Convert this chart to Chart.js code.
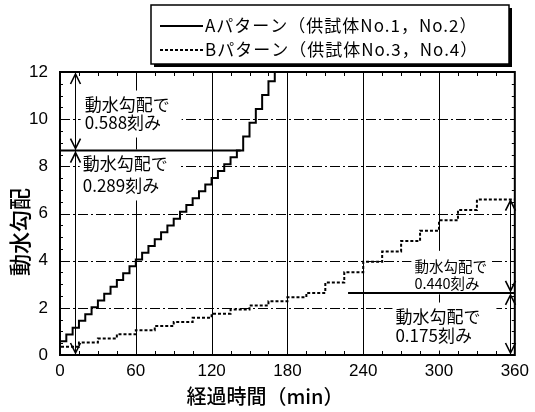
<!DOCTYPE html>
<html>
<head>
<meta charset="utf-8">
<style>
  html, body { margin: 0; padding: 0; background: #fff; }
  canvas { display: block; }
</style>
<script src="https://cdn.jsdelivr.net/npm/chart.js@4.4.0/dist/chart.umd.min.js"></script>
</head>
<body>
<canvas id="chart" width="535" height="412"></canvas>
<script>
// Hydraulic gradient loading steps for the two test patterns (time in min).
const seriesNames = ['Aパターン（供試体No.1，No.2）', 'Bパターン（供試体No.3，No.4）'];

const aTimes = [0, 0, 5, 10, 15, 20, 25, 30, 35, 40, 45, 50, 55, 60, 65, 70, 75, 80, 85, 90,
                95, 100, 105, 110, 115, 120, 125, 130, 135, 140, 145,
                150, 155, 160, 165, 170, 175];
const aHead  = [0, 0.29, 0.58, 0.87, 1.16, 1.45, 1.73, 2.02, 2.31, 2.60, 2.89, 3.18, 3.47, 3.76,
                4.05, 4.34, 4.62, 4.91, 5.20, 5.49, 5.78, 6.07, 6.36, 6.65, 6.94, 7.23, 7.51,
                7.80, 8.09, 8.38, 8.67,
                9.26, 9.85, 10.43, 11.02, 11.61, 12.00];

const bTimes = [0, 15, 30, 45, 60, 75, 90, 105, 120, 135, 150, 165, 180, 195, 210,
                225, 240, 255, 270, 285, 300, 315, 330, 345, 360];
const bHead  = [0.18, 0.35, 0.53, 0.70, 0.88, 1.05, 1.23, 1.40, 1.58, 1.75, 1.93, 2.10, 2.28,
                2.45, 2.63,
                3.07, 3.51, 3.95, 4.39, 4.83, 5.27, 5.71, 6.15, 6.59, 6.59];

// Gradient at which each pattern switches to the larger increment.
const aSwitch = 8.67;
const bSwitch = 2.63;

const xTicks = [0, 60, 120, 180, 240, 300, 360];
const yTicks = [0, 2, 4, 6, 8, 10, 12];
const xGrid = [60, 120, 180, 240, 300];
const yGrid = [2, 4, 6, 8, 10];

const xTitle = '経過時間（min）';
const yTitle = '動水勾配';

const notes = [
  { lines: ['動水勾配で', '0.588刻み'], t: 19.5, v: 10.6, size: 17, gap: 18, pad: [4, 12, 6, 6] },
  { lines: ['動水勾配で', '0.289刻み'], t: 18.0, v: 8.10, size: 17, gap: 22, pad: [3, 12, 6, 6] },
  { lines: ['動水勾配で', '0.440刻み'], t: 280.5, v: 3.77, size: 14.5, gap: 17, pad: [3, 4, 8, 4] },
  { lines: ['動水勾配で', '0.175刻み'], t: 265.5, v: 1.61, size: 17, gap: 19, pad: [3, 16, 6, 6] }
];

const CJK = '"Noto Sans CJK JP", "Noto Sans", sans-serif';
const LAT = '"Liberation Sans", Arial, sans-serif';

const toPoints = (ts, vs) => ts.map((t, i) => ({ x: t, y: vs[i] }));

function arrowHead(ctx, x, yTip, dir) {
  // dir = -1 points up, +1 points down
  ctx.beginPath();
  ctx.moveTo(x - 5, yTip - dir * 10);
  ctx.lineTo(x, yTip);
  ctx.lineTo(x + 5, yTip - dir * 10);
  ctx.stroke();
}

function noteBox(ctx, n, X, Y) {
  ctx.font = n.size + 'px ' + CJK;
  let w = 0;
  n.lines.forEach(s => { w = Math.max(w, ctx.measureText(s).width); });
  return {
    x0: X - n.pad[0],
    x1: X + w + n.pad[1],
    y0: Y - n.size / 2 - n.pad[2],
    y1: Y + n.gap * (n.lines.length - 1) + n.size / 2 + n.pad[3]
  };
}

const decor = {
  id: 'decor',
  beforeDatasetsDraw(chart) {
    const { ctx, chartArea: a, scales: { x, y } } = chart;
    ctx.save();
    ctx.strokeStyle = '#000';
    // vertical grid
    ctx.lineWidth = 1;
    ctx.setLineDash([]);
    xGrid.forEach(t => {
      const px = Math.round(x.getPixelForValue(t)) + 0.5;
      ctx.beginPath(); ctx.moveTo(px, a.top); ctx.lineTo(px, a.bottom); ctx.stroke();
    });
    // horizontal dash-dot grid
    ctx.setLineDash([10, 3, 2, 3]);
    yGrid.forEach(v => {
      const py = Math.round(y.getPixelForValue(v)) + 0.5;
      ctx.beginPath(); ctx.moveTo(a.left, py); ctx.lineTo(a.right, py); ctx.stroke();
    });
    ctx.setLineDash([]);
    // small inward ticks
    for (let t = 15; t < 360; t += 15) {
      if (t % 60 === 0) continue;
      const px = Math.round(x.getPixelForValue(t)) + 0.5;
      ctx.beginPath();
      ctx.moveTo(px, a.bottom); ctx.lineTo(px, a.bottom - 4);
      ctx.moveTo(px, a.top); ctx.lineTo(px, a.top + 4);
      ctx.stroke();
    }
    for (let v = 0.5; v < 12; v += 0.5) {
      if (v % 2 === 0) continue;
      const py = Math.round(y.getPixelForValue(v)) + 0.5;
      ctx.beginPath();
      ctx.moveTo(a.left, py); ctx.lineTo(a.left + 3, py);
      ctx.moveTo(a.right, py); ctx.lineTo(a.right - 3, py);
      ctx.stroke();
    }
    // white backing behind the annotation texts
    ctx.fillStyle = '#fff';
    notes.forEach(n => {
      const b = noteBox(ctx, n, x.getPixelForValue(n.t), y.getPixelForValue(n.v));
      ctx.fillRect(b.x0, b.y0, b.x1 - b.x0, b.y1 - b.y0);
    });
    ctx.restore();
  },
  afterDatasetsDraw(chart) {
    const { ctx, chartArea: a, scales: { x, y } } = chart;
    ctx.save();
    ctx.strokeStyle = '#000';
    ctx.setLineDash([]);
    // switch lines
    ctx.lineWidth = 2;
    const ya = y.getPixelForValue(aSwitch);
    ctx.beginPath(); ctx.moveTo(a.left, ya); ctx.lineTo(x.getPixelForValue(143), ya); ctx.stroke();
    const yb = y.getPixelForValue(bSwitch);
    ctx.beginPath(); ctx.moveTo(x.getPixelForValue(228), yb); ctx.lineTo(a.right, yb); ctx.stroke();
    // dimension arrows
    ctx.lineWidth = 1;
    const xl = Math.round(x.getPixelForValue(12)) + 0.5;
    ctx.beginPath(); ctx.moveTo(xl, a.top + 1); ctx.lineTo(xl, a.bottom - 1); ctx.stroke();
    const xr = Math.round(x.getPixelForValue(356)) + 0.5;
    const ytop = y.getPixelForValue(bHead[bHead.length - 1]);
    ctx.beginPath(); ctx.moveTo(xr, ytop); ctx.lineTo(xr, a.bottom - 1); ctx.stroke();
    ctx.lineWidth = 1.6;
    arrowHead(ctx, xl, a.top + 2, -1);
    arrowHead(ctx, xl, ya - 2, 1);
    arrowHead(ctx, xl, ya + 2, -1);
    arrowHead(ctx, xl, a.bottom - 2, 1);
    arrowHead(ctx, xr, ytop + 1, -1);
    arrowHead(ctx, xr, yb - 2, 1);
    arrowHead(ctx, xr, yb + 2, -1);
    arrowHead(ctx, xr, a.bottom - 2, 1);
    // annotation texts
    ctx.fillStyle = '#000';
    ctx.textBaseline = 'middle';
    ctx.textAlign = 'left';
    notes.forEach(n => {
      ctx.font = n.size + 'px ' + CJK;
      const X = x.getPixelForValue(n.t), Y = y.getPixelForValue(n.v);
      n.lines.forEach((s, i) => ctx.fillText(s, X, Y + i * n.gap));
    });
    // plot frame
    ctx.lineWidth = 2;
    ctx.strokeRect(a.left, a.top, a.right - a.left, a.bottom - a.top);
    ctx.restore();
  },
  afterDraw(chart) {
    const { ctx } = chart;
    ctx.save();
    ctx.fillStyle = '#000';
    ctx.textBaseline = 'middle';
    // axis titles
    ctx.font = '500 20px ' + CJK;
    ctx.textAlign = 'center';
    ctx.fillText(xTitle, 265, 396);
    ctx.translate(20, 232);
    ctx.rotate(-Math.PI / 2);
    ctx.font = '500 22px ' + CJK;
    ctx.fillText(yTitle, 0, 0);
    ctx.restore();

    // legend box with drop shadow
    ctx.save();
    const L = 151, T = 5, W = 358, H = 59;
    ctx.fillStyle = '#000';
    ctx.fillRect(L + 3, T + 3, W, H);
    ctx.fillStyle = '#fff';
    ctx.fillRect(L, T, W, H);
    ctx.strokeStyle = '#000';
    ctx.lineWidth = 1.5;
    ctx.strokeRect(L, T, W, H);
    const ds = chart.data.datasets;
    [26, 50].forEach((yy, i) => {
      ctx.lineWidth = 2;
      ctx.setLineDash(ds[i].borderDash || []);
      ctx.beginPath(); ctx.moveTo(160, yy); ctx.lineTo(203, yy); ctx.stroke();
      ctx.setLineDash([]);
      ctx.font = '17px ' + CJK;
      ctx.letterSpacing = '1px';
      ctx.textAlign = 'left';
      ctx.textBaseline = 'middle';
      ctx.fillStyle = '#000';
      ctx.fillText(ds[i].label, 205, yy);
      ctx.letterSpacing = '0px';
    });
    ctx.restore();
  }
};

new Chart(document.getElementById('chart'), {
  type: 'line',
  data: {
    datasets: [
      {
        label: seriesNames[0],
        data: toPoints(aTimes, aHead),
        stepped: 'after',
        borderColor: '#000',
        borderWidth: 2,
        pointRadius: 0,
        fill: false
      },
      {
        label: seriesNames[1],
        data: toPoints(bTimes, bHead),
        stepped: 'after',
        borderColor: '#000',
        borderWidth: 2,
        borderDash: [3, 2],
        pointRadius: 0,
        fill: false
      }
    ]
  },
  options: {
    responsive: false,
    animation: false,
    devicePixelRatio: 1,
    layout: { padding: { top: 72, right: 17, left: 0, bottom: 0 } },
    plugins: { legend: { display: false }, tooltip: { enabled: false } },
    scales: {
      x: {
        type: 'linear', min: 0, max: 360,
        afterBuildTicks: s => { s.ticks = xTicks.map(v => ({ value: v })); },
        ticks: { font: { family: LAT, size: 17 }, color: '#000', padding: 6, maxRotation: 0, autoSkip: false },
        grid: { display: false, drawTicks: false },
        border: { display: false },
        afterFit: s => { s.height = 57; }
      },
      y: {
        type: 'linear', min: 0, max: 12,
        afterBuildTicks: s => { s.ticks = yTicks.map(v => ({ value: v })); },
        ticks: { font: { family: LAT, size: 17 }, color: '#000', padding: 12, autoSkip: false },
        grid: { display: false, drawTicks: false },
        border: { display: false },
        afterFit: s => { s.width = 60; }
      }
    }
  },
  plugins: [decor]
});
</script>
</body>
</html>
